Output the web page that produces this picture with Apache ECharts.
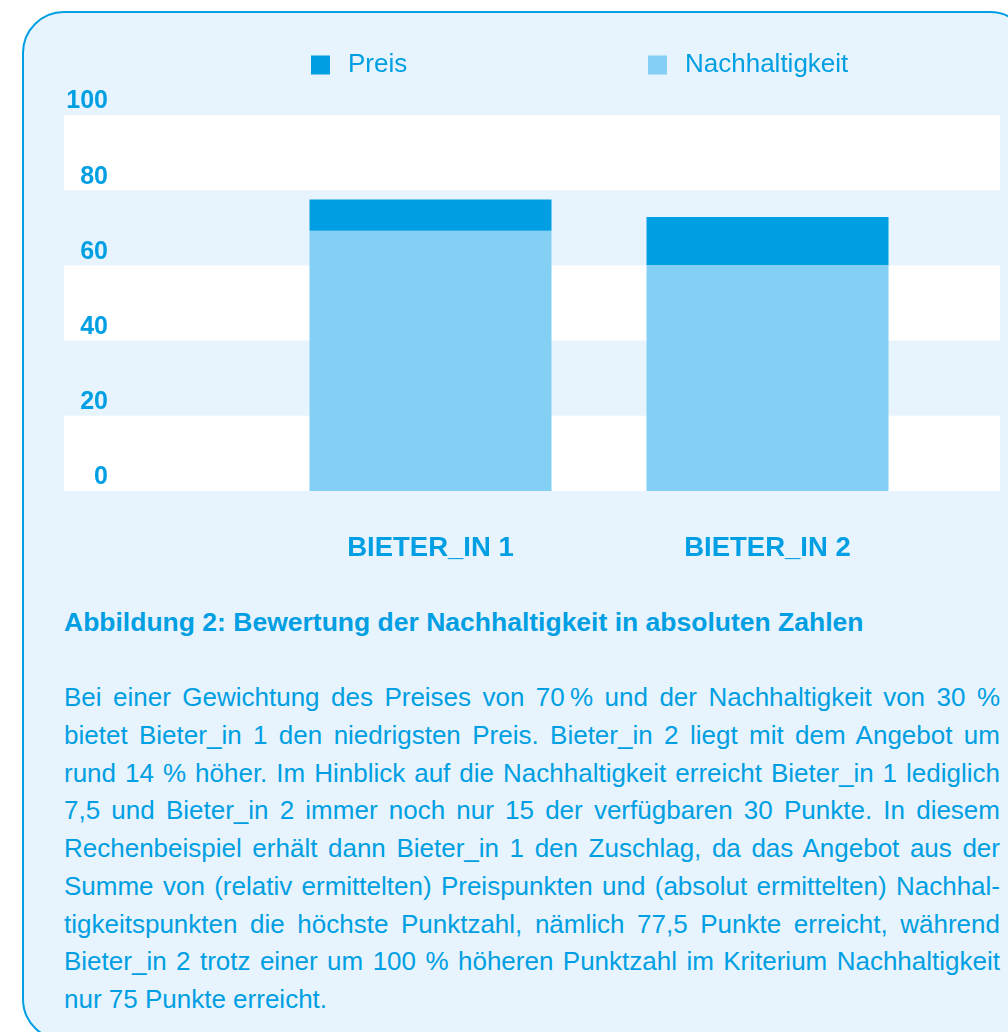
<!DOCTYPE html>
<html>
<head>
<meta charset="utf-8">
<script src="https://cdn.jsdelivr.net/npm/echarts@6/dist/echarts.min.js"></script>
<style>
  html, body { margin: 0; padding: 0; background: #ffffff; }
  body { width: 1008px; height: 1032px; position: relative; overflow: hidden;
         font-family: "Liberation Sans", Arial, sans-serif; color: #009fe3; }
  #panel { position: absolute; left: 22px; top: 11px; width: 1010px; height: 1030px;
           border: 2px solid #009fe3; border-radius: 42px; background: #e7f4fd; box-sizing: border-box; }
  #chart { position: absolute; left: 0; top: 0; width: 1008px; height: 580px; }
  #caption { position: absolute; left: 64px; top: 607px; font-size: 26.5px; font-weight: bold; line-height: 30px; white-space: nowrap; }
  #text { position: absolute; left: 64px; top: 679px; width: 936px; font-size: 26px; line-height: 37.75px; }
  #text div { text-align: justify; text-align-last: justify; }
  #text div.last { text-align-last: left; }
</style>
</head>
<body>
<div id="panel"></div>
<div id="chart"></div>
<div id="caption">Abbildung 2: Bewertung der Nachhaltigkeit in absoluten Zahlen</div>
<div id="text">
  <div>Bei einer Gewichtung des Preises von 70&#8239;% und der Nachhaltigkeit von 30 %</div>
  <div>bietet Bieter_in 1 den niedrigsten Preis. Bieter_in 2 liegt mit dem Angebot um</div>
  <div>rund 14 % höher. Im Hinblick auf die Nachhaltigkeit erreicht Bieter_in 1 lediglich</div>
  <div>7,5 und Bieter_in 2 immer noch nur 15 der verfügbaren 30 Punkte. In diesem</div>
  <div>Rechenbeispiel erhält dann Bieter_in 1 den Zuschlag, da das Angebot aus der</div>
  <div>Summe von (relativ ermittelten) Preispunkten und (absolut ermittelten) Nachhal-</div>
  <div>tigkeitspunkten die höchste Punktzahl, nämlich 77,5 Punkte erreicht, während</div>
  <div>Bieter_in 2 trotz einer um 100 % höheren Punktzahl im Kriterium Nachhaltigkeit</div>
  <div class="last">nur 75 Punkte erreicht.</div>
</div>
<script>
  const categories = ["BIETER_IN 1", "BIETER_IN 2"];
  const nachhaltigkeit = [69.2, 60.1];
  const preis = [8.3, 12.8];
  const yTicks = { min: 0, max: 100, interval: 20 };

  const blue = "#009fe3";
  const lightBlue = "#84d0f5";
  const font = '"Liberation Sans", Arial, sans-serif';

  const chart = echarts.init(document.getElementById("chart"), null, { renderer: "canvas" });

  // gap between legend square and its label is ~18px in the original
  const legendText = { color: blue, fontSize: 26, fontFamily: font, padding: [0, 0, 0, 13] };

  const option = {
    animation: false,
    backgroundColor: "transparent",
    legend: [
      {
        data: ["Preis"], left: 306, top: 47, icon: "rect",
        itemWidth: 19, itemHeight: 19, itemGap: 0, textStyle: legendText,
      },
      {
        data: ["Nachhaltigkeit"], left: 643, top: 47, icon: "rect",
        itemWidth: 19, itemHeight: 19, itemGap: 0, textStyle: legendText,
      },
    ],
    grid: [
      { left: 64, right: 8, top: 115, bottom: 89 },
      { left: 262, right: 72, top: 115, bottom: 89 },
    ],
    xAxis: [
      { gridIndex: 0, type: "category", data: categories, show: false },
      {
        gridIndex: 1,
        type: "category",
        data: categories,
        axisLine: { show: false },
        axisTick: { show: false },
        axisLabel: {
          color: blue, fontSize: 27.5, fontWeight: "bold", fontFamily: font, margin: 43,
        },
      },
    ],
    yAxis: [
      {
        gridIndex: 0,
        type: "value",
        min: yTicks.min,
        max: yTicks.max,
        interval: yTicks.interval,
        axisLine: { show: false },
        axisTick: { show: false },
        splitLine: { show: false },
        splitArea: { show: true, areaStyle: { color: ["#ffffff", "rgba(0,0,0,0)"] } },
        axisLabel: {
          color: blue, fontSize: 25, fontWeight: "bold", fontFamily: font,
          margin: -44, verticalAlign: "bottom", lineHeight: 27,
        },
      },
      {
        gridIndex: 1, type: "value",
        min: yTicks.min, max: yTicks.max, interval: yTicks.interval, show: false,
        splitLine: { show: false },
      },
    ],
    series: [
      {
        name: "Nachhaltigkeit", type: "bar", stack: "total",
        xAxisIndex: 1, yAxisIndex: 1, barWidth: 242,
        itemStyle: { color: lightBlue }, data: nachhaltigkeit,
      },
      {
        name: "Preis", type: "bar", stack: "total",
        xAxisIndex: 1, yAxisIndex: 1, barWidth: 242,
        itemStyle: { color: blue }, data: preis,
      },
    ],
  };

  chart.setOption(option);
</script>
</body>
</html>
